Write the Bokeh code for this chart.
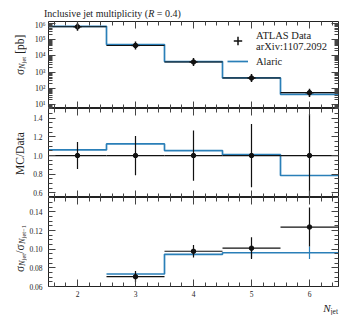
import numpy as np
from bokeh.plotting import figure
from bokeh.layouts import column, row
from bokeh.models import (LinearAxis, LogAxis, Legend, LegendItem, FixedTicker, Div,
                          CustomJSTickFormatter, PrintfTickFormatter, Range1d,
                          SingleIntervalTicker)
from bokeh.embed import file_html
from bokeh.resources import INLINE

# ---------------- data ----------------
n_jet = [2, 3, 4, 5, 6]
bin_lo = [1.5, 2.5, 3.5, 4.5, 5.5]
bin_hi = [2.5, 3.5, 4.5, 5.5, 6.5]
data_xsec = [6.0e5, 4.3e4, 4.2e3, 4.4e2, 5.6e1]          # pb
mc_xsec = [6.4e5, 4.85e4, 4.45e3, 4.45e2, 4.4e1]         # pb (Alaric)
data_rel_err = [0.145, 0.21, 0.27, 0.34, 0.45]
data_over_data = [1.0, 1.0, 1.0, 1.0, 1.0]
mc_over_data = [1.061, 1.125, 1.054, 1.01, 0.786]

r_n = [3, 4, 5, 6]
r_lo = [2.5, 3.5, 4.5, 5.5]
r_hi = [3.5, 4.5, 5.5, 6.5]
data_ratio = [0.0705, 0.0978, 0.1011, 0.1238]
data_ratio_err = [0.006, 0.0067, 0.0117, 0.021]
mc_ratio = [0.0734, 0.0945, 0.0962, 0.0962]
mc_ratio_err = [0.0015, 0.002, 0.0054, 0.0068]

log_ticks = [1e1, 1e2, 1e3, 1e4, 1e5, 1e6]

FONT = "Liberation Serif"
BLUE = "#2a7fb8"
BLACK = "#111111"
TICKC = "#444444"
W = 322          # figure width: 18 left border + 294 frame + 10 right border

x_range = Range1d(1.5, 6.5)
empty_fmt = CustomJSTickFormatter(code="return ''")


def style_axis(ax, labels=True, size="7.5px", standoff=4):
    ax.major_tick_in = 7
    ax.major_tick_out = 0
    ax.minor_tick_in = 4
    ax.minor_tick_out = 0
    ax.major_tick_line_color = TICKC
    ax.minor_tick_line_color = TICKC
    ax.axis_line_color = None
    ax.major_label_text_font = FONT
    ax.major_label_text_font_size = size
    ax.major_label_text_color = "#222222"
    ax.major_label_standoff = standoff
    if not labels:
        ax.formatter = empty_fmt
        ax.major_label_text_font_size = "0px"
        ax.major_label_standoff = 0


def make_fig(h, y_range, y_type, bt, bb):
    p = figure(width=W, height=h, x_range=x_range, y_range=y_range,
               y_axis_type=y_type, output_backend="svg", toolbar_location=None,
               min_border_left=18, min_border_right=10, min_border_top=bt,
               min_border_bottom=bb, margin=0)
    p.grid.visible = False
    p.outline_line_color = "#222222"
    p.outline_line_width = 1
    p.background_fill_color = "white"
    p.border_fill_color = "white"
    return p


def add_x_axes(p, labels):
    p.xaxis.ticker = SingleIntervalTicker(interval=1, num_minor_ticks=5)
    style_axis(p.xaxis[0], labels=labels, size="7.5px", standoff=4)
    top = LinearAxis(ticker=SingleIntervalTicker(interval=1, num_minor_ticks=5))
    style_axis(top, labels=False)
    p.add_layout(top, "above")


# ---------------- panel 1 ----------------
p1 = make_fig(88, Range1d(6.0, 1.26e6), "log", 1, 0)
add_x_axes(p1, labels=False)
minor_log = [k * 10.0 ** d for d in range(0, 7) for k in range(2, 10)]
sup_fmt = CustomJSTickFormatter(code="""
const sup = {'-':'\u207b','0':'\u2070','1':'\u00b9','2':'\u00b2','3':'\u00b3','4':'\u2074','5':'\u2075','6':'\u2076','7':'\u2077','8':'\u2078','9':'\u2079'};
const e = Math.round(Math.log10(tick));
return '10' + String(e).split('').map(c => sup[c]).join('');
""")
p1.yaxis.ticker = FixedTicker(ticks=log_ticks, minor_ticks=minor_log)
style_axis(p1.yaxis[0], labels=True, size="8px", standoff=3)
p1.yaxis.formatter = sup_fmt
r1 = LogAxis(ticker=FixedTicker(ticks=log_ticks, minor_ticks=minor_log))
style_axis(r1, labels=False)
p1.add_layout(r1, "right")

edges = bin_lo + [bin_hi[-1]]
step1 = p1.step(x=edges, y=mc_xsec + [mc_xsec[-1]], mode="after", line_color=BLUE, line_width=1.7)
p1.segment(x0=bin_lo, x1=bin_hi, y0=data_xsec, y1=data_xsec, line_color=BLACK, line_width=1.2)
p1.segment(x0=n_jet, x1=n_jet,
           y0=[d * (1 - e) for d, e in zip(data_xsec, data_rel_err)],
           y1=[d * (1 + e) for d, e in zip(data_xsec, data_rel_err)],
           line_color=BLACK, line_width=1.2)
cross1 = p1.scatter(x=n_jet, y=data_xsec, marker="cross", size=8, line_color=BLACK, line_width=1.5)
dot1 = p1.scatter(x=n_jet, y=data_xsec, marker="circle", size=4.5, fill_color=BLACK, line_color=BLACK)

LEG = dict(padding=0, margin=0, glyph_width=21, label_standoff=8,
           label_text_font=FONT, label_text_font_size="10.5px", label_text_color="#222222",
           label_text_line_height=1.3, border_line_color=None, background_fill_alpha=0)
leg_a = Legend(items=[LegendItem(label="ATLAS Data\narXiv:1107.2092", renderers=[cross1])],
               location=(179, 54), glyph_height=27, **LEG)
leg_b = Legend(items=[LegendItem(label="Alaric", renderers=[step1])],
               location=(179, 41), glyph_height=12, **LEG)
p1.add_layout(leg_a)
p1.add_layout(leg_b)

# ---------------- panel 2 ----------------
p2 = make_fig(89, Range1d(0.55, 1.505), "linear", 0, 0)
add_x_axes(p2, labels=False)
p2.yaxis.ticker = SingleIntervalTicker(interval=0.2, num_minor_ticks=4)
style_axis(p2.yaxis[0], labels=True, size="7.5px", standoff=6)
p2.yaxis.formatter = PrintfTickFormatter(format="%.1f")
r2 = LinearAxis(ticker=SingleIntervalTicker(interval=0.2, num_minor_ticks=4))
style_axis(r2, labels=False)
p2.add_layout(r2, "right")

p2.step(x=edges, y=mc_over_data + [mc_over_data[-1]], mode="after", line_color=BLUE, line_width=1.7)
p2.segment(x0=bin_lo, x1=bin_hi, y0=data_over_data, y1=data_over_data, line_color=BLACK, line_width=1.2)
p2.segment(x0=n_jet, x1=n_jet,
           y0=[d - e for d, e in zip(data_over_data, data_rel_err)],
           y1=[d + e for d, e in zip(data_over_data, data_rel_err)],
           line_color=BLACK, line_width=1.2)
p2.scatter(x=n_jet, y=data_over_data, marker="circle", size=4.5, fill_color=BLACK, line_color=BLACK)

# ---------------- panel 3 ----------------
p3 = make_fig(103, Range1d(0.06, 0.1555), "linear", 0, 14)
add_x_axes(p3, labels=True)
p3.yaxis.ticker = SingleIntervalTicker(interval=0.02, num_minor_ticks=4)
style_axis(p3.yaxis[0], labels=True, size="7.5px", standoff=6)
p3.yaxis.formatter = PrintfTickFormatter(format="%.2f")
r3 = LinearAxis(ticker=SingleIntervalTicker(interval=0.02, num_minor_ticks=4))
style_axis(r3, labels=False)
p3.add_layout(r3, "right")

edges3 = r_lo + [r_hi[-1]]
p3.step(x=edges3, y=mc_ratio + [mc_ratio[-1]], mode="after", line_color=BLUE, line_width=1.7)
p3.segment(x0=r_n, x1=r_n,
           y0=[m - e for m, e in zip(mc_ratio, mc_ratio_err)],
           y1=[m + e for m, e in zip(mc_ratio, mc_ratio_err)],
           line_color=BLUE, line_width=1.2)
p3.segment(x0=r_lo, x1=r_hi, y0=data_ratio, y1=data_ratio, line_color=BLACK, line_width=1.2)
p3.segment(x0=r_n, x1=r_n,
           y0=[d - e for d, e in zip(data_ratio, data_ratio_err)],
           y1=[d + e for d, e in zip(data_ratio, data_ratio_err)],
           line_color=BLACK, line_width=1.2)
p3.scatter(x=r_n, y=data_ratio, marker="circle", size=4.5, fill_color=BLACK, line_color=BLACK)

# ---------------- texts (HTML) ----------------
BASE = "font-family:'Liberation Serif',serif; color:#222; white-space:nowrap; margin:0;"

title = Div(text=f'<div style="{BASE} font-size:10px; line-height:10px;">'
                 'Inclusive jet multiplicity (<i>R</i> = 0.4)</div>',
            width=300, height=15, margin=(5, 0, 0, 44))

SUBN = ('<span style="font-size:8.5px; vertical-align:-2px;"><i>N</i>'
        '<span style="font-size:6.5px; vertical-align:-1.5px;">jet</span></span>')
SUBN1 = ('<span style="font-size:8.5px; vertical-align:-2px;"><i>N</i>'
         '<span style="font-size:6.5px; vertical-align:-1.5px;">jet&#8722;1</span></span>')


def ylabel_div(html, h, pad):
    inner = (f'<div style="{BASE} font-size:11.5px; line-height:12px; writing-mode:vertical-rl; '
             f'transform:rotate(180deg); box-sizing:border-box; width:26px; height:{h}px; '
             f'padding-right:14px; padding-top:{pad}px; text-align:start; overflow:visible;">{html}</div>')
    return Div(text=inner, width=26, height=h, margin=0)


yl1 = ylabel_div(f'&#963;{SUBN} [pb]', 88, 33)
yl2 = ylabel_div('MC/Data', 89, 22)
yl3 = ylabel_div(f'&#963;{SUBN}/&#963;{SUBN1}', 103, 28)

xlabel = Div(text=f'<div style="{BASE} font-size:11px; line-height:10px; text-align:right; '
                  f'width:338px; box-sizing:border-box;"><i>N</i>'
                  f'<span style="font-size:7.5px; vertical-align:-2px;">jet</span></div>',
             width=338, height=13, margin=0)

layout = column(title,
                row(column(yl1, yl2, yl3, spacing=0, margin=0),
                    column(p1, p2, p3, spacing=0, margin=0), spacing=0, margin=0),
                xlabel, spacing=0, margin=0)
open("out.html", "w").write(file_html(layout, INLINE))
